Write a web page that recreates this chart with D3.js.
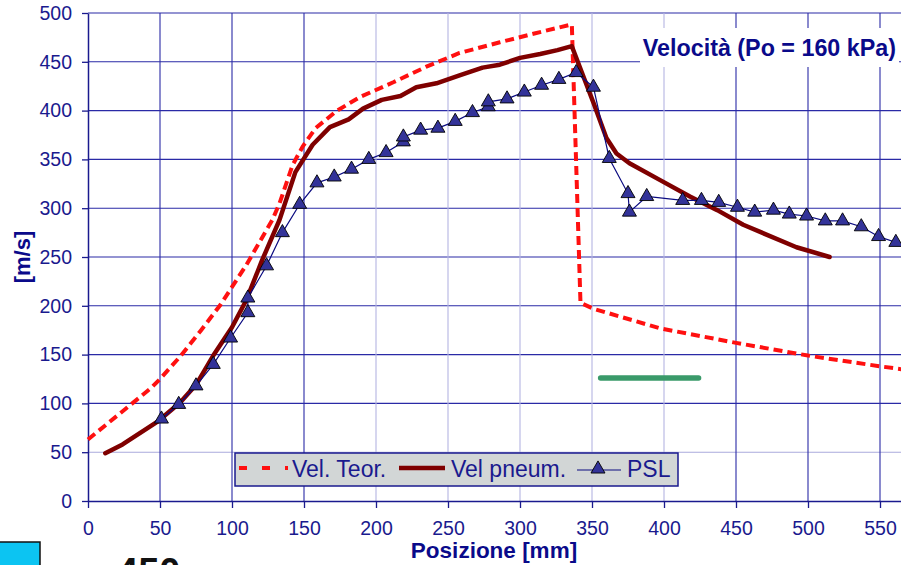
<!DOCTYPE html>
<html>
<head>
<meta charset="utf-8">
<script src="https://cdn.jsdelivr.net/npm/d3@7"></script>
<style>
  html, body { margin: 0; padding: 0; background: #ffffff; overflow: hidden; }
  svg { display: block; font-family: "Liberation Sans", Arial, sans-serif; }
</style>
</head>
<body>
<svg id="chart" width="901" height="565"></svg>
<script>
// Position along the tube [mm] and velocity [m/s]
const teorX = [0, 44, 50, 64, 78, 92, 110, 128, 133, 142, 149, 158, 173, 189, 212, 235, 258, 286, 310, 335, 336, 342, 351, 397, 450, 500, 550, 565];
const teorV = [63, 116, 125, 148, 174, 201, 242, 288, 305, 344, 363, 382, 400, 414, 429, 445, 459, 470, 479, 488, 488, 203, 197, 177, 162, 149, 138, 135];

const pneumX = [12, 24, 48, 64, 75, 87, 100, 110, 121, 133, 144, 156, 168, 181, 191, 204, 217, 228, 242, 258, 274, 286, 300, 314, 326, 336, 351, 360, 367, 376, 397, 418, 437, 455, 492, 515];
const pneumV = [49, 58, 81, 101, 119, 149, 178, 206, 247, 288, 337, 365, 383, 391, 402, 411, 415, 424, 428, 436, 444, 447, 454, 458, 462, 466, 408, 372, 356, 346, 329, 312, 298, 283, 260, 250];

const pslX = [51, 63, 75, 87, 99, 111, 111, 124, 135, 147, 159, 171, 183, 195, 207, 219, 219, 231, 243, 255, 267, 278, 278, 291, 303, 315, 327, 339, 351, 362, 375, 376, 388, 413, 426, 438, 451, 463, 476, 487, 499, 512, 524, 537, 549, 561];
const pslV = [84, 99, 118, 140, 167, 193, 208, 241, 275, 304, 326, 332, 340, 350, 357, 368, 373, 380, 382, 389, 398, 404, 409, 412, 419, 426, 432, 439, 424, 351, 315, 296, 312, 308, 308, 306, 301, 296, 298, 294, 292, 287, 287, 281, 271, 265];

// Short green reference segment
const segX = [356, 424];
const segV = [126, 126];

const xTicks = [0, 50, 100, 150, 200, 250, 300, 350, 400, 450, 500, 550];
const yTicks = [0, 50, 100, 150, 200, 250, 300, 350, 400, 450, 500];
const faintX = [200, 250, 300, 350, 400];
const faintY = [50];

const navy = "#1a1a8e";
const gridCol = "#2a2aa6";
const svg = d3.select("#chart");

const x = d3.scaleLinear().domain([0, 565]).range([88, 88 + 565 * 1.44]);
const y = d3.scaleLinear().domain([0, 500]).range([501, 13]);
const xMaxPx = 901;

// Grid
const grid = svg.append("g");
grid.selectAll("line.gy").data(yTicks.filter(d => d > 0)).join("line")
  .attr("x1", x(0)).attr("x2", xMaxPx)
  .attr("y1", d => y(d)).attr("y2", d => y(d))
  .attr("stroke", d => faintY.includes(d) ? "#aaaadc" : gridCol).attr("stroke-width", 1.1);
grid.selectAll("line.gx").data(xTicks.filter(d => d > 0)).join("line")
  .attr("x1", d => x(d)).attr("x2", d => x(d))
  .attr("y1", y(500)).attr("y2", y(0))
  .attr("stroke", d => faintX.includes(d) ? "#b4b4e2" : gridCol).attr("stroke-width", 1.1);

// Title box hides the grid behind it
svg.append("rect").attr("x", 640).attr("y", 28).attr("width", 259).attr("height", 39).attr("fill", "#ffffff");
svg.append("text").attr("x", 896).attr("y", 56).attr("text-anchor", "end")
  .attr("font-size", 23.3).attr("font-weight", "bold").attr("fill", "#0a0a8a")
  .text("Velocità (Po = 160 kPa)");

// Axes
const yAxis = svg.append("g").attr("transform", `translate(${x(0)},0)`)
  .call(d3.axisLeft(y).tickValues(yTicks).tickSize(6).tickSizeOuter(0).tickPadding(10));
const xAxis = svg.append("g").attr("transform", `translate(0,${y(0)})`)
  .call(d3.axisBottom(x).tickValues(xTicks).tickSize(7).tickSizeOuter(0).tickPadding(13));
[yAxis, xAxis].forEach(a => {
  a.select(".domain").attr("stroke", navy).attr("stroke-width", 1.5);
  a.selectAll(".tick line").attr("stroke", navy).attr("stroke-width", 1.3);
  a.selectAll(".tick text").attr("fill", navy).attr("font-size", 19.5)
    .attr("font-family", "Liberation Sans, Arial, sans-serif");
});

// Axis titles
svg.append("text").attr("transform", "translate(30,257) rotate(-90)")
  .attr("text-anchor", "middle").attr("font-size", 22).attr("font-weight", "bold")
  .attr("fill", "#0a0a8a").text("[m/s]");
svg.append("text").attr("x", 494).attr("y", 558).attr("text-anchor", "middle")
  .attr("font-size", 22.5).attr("font-weight", "bold").attr("fill", "#0a0a8a")
  .text("Posizione [mm]");

// Series
const line = d3.line().x(d => x(d[0])).y(d => y(d[1]));
const zip = (a, b) => a.map((v, i) => [v, b[i]]);

svg.append("path").datum(zip(teorX, teorV)).attr("d", line)
  .attr("fill", "none").attr("stroke", "#ff1010").attr("stroke-width", 4)
  .attr("stroke-dasharray", "9,5");

svg.append("path").datum(zip(pneumX, pneumV)).attr("d", line)
  .attr("fill", "none").attr("stroke", "#7f0000").attr("stroke-width", 4.5)
  .attr("stroke-linejoin", "round").attr("stroke-linecap", "round");

svg.append("path").datum(zip(segX, segV)).attr("d", line)
  .attr("fill", "none").attr("stroke", "#3a9a6a").attr("stroke-width", 5.5)
  .attr("stroke-linecap", "round");

svg.append("path").datum(zip(pslX, pslV)).attr("d", line)
  .attr("fill", "none").attr("stroke", "#0a0a80").attr("stroke-width", 1.2);

const tri = d3.symbol().type(d3.symbolTriangle).size(85);
svg.append("g").selectAll("path").data(zip(pslX, pslV)).join("path")
  .attr("d", tri)
  .attr("transform", d => `translate(${x(d[0])},${y(d[1])})`)
  .attr("fill", "#333399").attr("stroke", "#000000").attr("stroke-width", 0.9);

// Legend
const lg = svg.append("g");
lg.append("rect").attr("x", 235).attr("y", 453).attr("width", 443).attr("height", 33)
  .attr("fill", "#d2d6d6").attr("stroke", navy).attr("stroke-width", 1.5);
lg.append("line").attr("x1", 239).attr("x2", 288).attr("y1", 468).attr("y2", 468)
  .attr("stroke", "#ff1010").attr("stroke-width", 4).attr("stroke-dasharray", "8,15");
lg.append("line").attr("x1", 399).attr("x2", 445).attr("y1", 468).attr("y2", 468)
  .attr("stroke", "#7f0000").attr("stroke-width", 4.5);
lg.append("line").attr("x1", 577).attr("x2", 621).attr("y1", 470).attr("y2", 470)
  .attr("stroke", "#0a0a80").attr("stroke-width", 1.2);
lg.append("path").attr("d", tri).attr("transform", "translate(598,469)")
  .attr("fill", "#333399").attr("stroke", "#000").attr("stroke-width", 0.9);
const legText = [["Vel. Teor.", 292], ["Vel pneum.", 451], ["PSL", 627]];
lg.selectAll("text").data(legText).join("text")
  .attr("x", d => d[1]).attr("y", 477).attr("font-size", 23).attr("fill", navy)
  .text(d => d[0]);

// Cyan swatch and partly visible label at the bottom edge
svg.append("rect").attr("x", -2).attr("y", 542).attr("width", 42).attr("height", 30)
  .attr("fill", "#0cc4f2").attr("stroke", "#111").attr("stroke-width", 1.5);
svg.append("text").attr("x", 117).attr("y", 585).attr("font-size", 38).attr("font-weight", "bold")
  .attr("fill", "#111").text("450");
</script>
</body>
</html>
